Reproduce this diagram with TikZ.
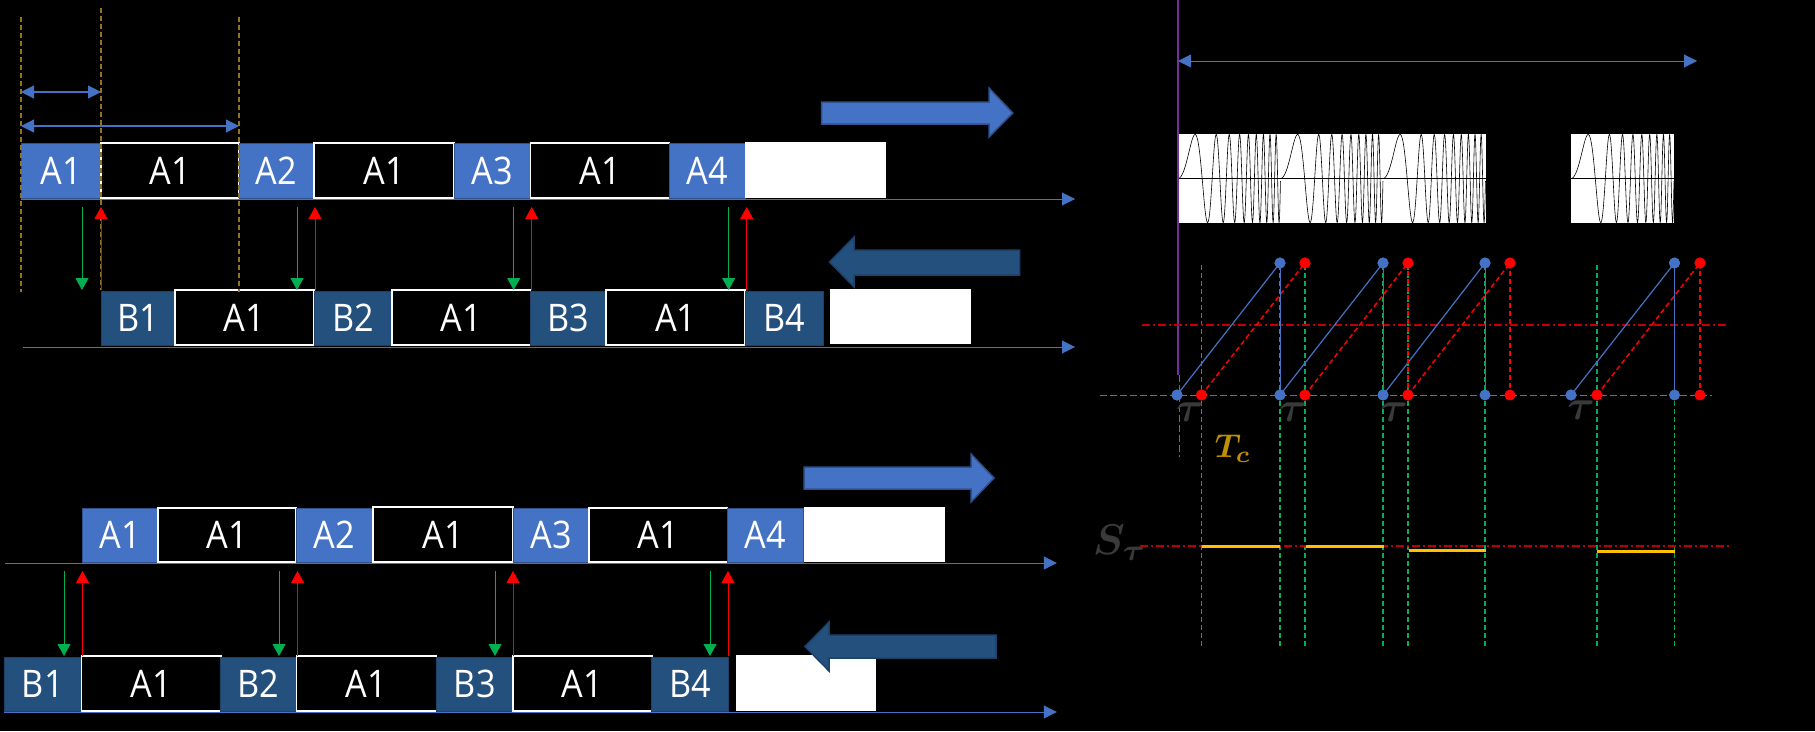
\documentclass[tikz,border=0pt]{standalone}
\usepackage{amsmath,bm}
\usepackage{fontspec}
\newfontfamily\boxfont[FakeStretch=0.9]{Open Sans}
\usetikzlibrary{arrows.meta}
\definecolor{ablue}{HTML}{4472C4}
\definecolor{ablueD}{HTML}{2F528F}
\definecolor{bblue}{RGB}{35,80,125}
\definecolor{bblueD}{RGB}{30,65,105}
\definecolor{pgreen}{HTML}{00B050}
\definecolor{pred}{HTML}{FF0000}
\definecolor{dred}{HTML}{C00000}
\definecolor{goldc}{HTML}{BF9000}
\definecolor{golddash}{RGB}{150,115,30}
\definecolor{lgray}{HTML}{3A3A3A}
\definecolor{purp}{HTML}{7030A0}
\definecolor{yel}{HTML}{FFC000}
\newcommand\bx[7]{\node[#6, minimum width={#3-#2}, minimum height={#5-#4}] (#1) at ({(#2+#3)/2},{(#4+#5)/2}) {#7};}
\tikzset{
  cell/.style={inner sep=0pt, outer sep=0pt, font={\boxfont\fontsize{38}{42}\selectfont}, text=white},
  ab/.style={cell, fill=ablue, draw=ablueD, line width=1pt},
  bb/.style={cell, fill=bblue, draw=bblueD, line width=1pt},
  ob/.style={cell, fill=black, draw=white, line width=1.8pt},
  wb/.style={cell, fill=white},
  axisline/.style={ablue, line width=1pt, -{Triangle[length=13pt,width=13pt]}},
  dn/.style={pgreen, line width=1pt, -{Triangle[length=12pt,width=13pt]}},
  upar/.style={pred, line width=1pt, -{Triangle[length=12pt,width=13pt]}},
  gdash/.style={golddash, line width=1.5pt, dash pattern=on 5pt off 3pt},
  dbl/.style={ablue, line width=1.2pt, {Triangle[length=13pt,width=13pt]}-{Triangle[length=13pt,width=13pt]}},
  blkA/.style={fill=ablue, draw=ablueD, line width=1.5pt},
  blkB/.style={fill=bblue, draw=bblueD, line width=1.5pt},
  gv/.style={pgreen, line width=1.5pt, dash pattern=on 5pt off 3pt},
  bdiag/.style={ablue, line width=1.2pt},
  rdiag/.style={pred, line width=1.5pt, dash pattern=on 5pt off 3pt},
  bhd/.style={ablue, line width=1pt, dash pattern=on 7pt off 3pt},
  rdd/.style={dred, line width=1.2pt, dash pattern=on 8pt off 3pt on 2pt off 3pt},
  bdot/.style={circle, fill=ablue, inner sep=0pt, minimum size=11pt},
  rdot/.style={circle, fill=pred, inner sep=0pt, minimum size=11pt},
  lab/.style={inner sep=0pt, text=lgray},
}
\begin{document}
\begin{tikzpicture}[x=1pt,y=-1pt]
\fill[black] (0,0) rectangle (1815,731);
\useasboundingbox (0,0) rectangle (1815,731);

% ---------- top-left panel ----------
\bx{t1a}{21}{101}{143}{198}{ab}{A1}
\bx{t1o}{101}{239}{143}{198}{ob}{A1}
\bx{t2a}{239}{314}{143}{198}{ab}{A2}
\bx{t2o}{314}{454}{143}{198}{ob}{A1}
\bx{t3a}{454}{530.5}{143}{198}{ab}{A3}
\bx{t3o}{530.5}{669.4}{143}{198}{ob}{A1}
\bx{t4a}{669.4}{745.2}{143}{198}{ab}{A4}
\bx{t4w}{745.2}{885.6}{142}{198}{wb}{}

\bx{b1b}{101}{175}{291}{345}{bb}{B1}
\bx{b1o}{175}{314}{290}{345}{ob}{A1}
\bx{b2b}{314}{392}{291}{345}{bb}{B2}
\bx{b2o}{392}{530.5}{290}{345}{ob}{A1}
\bx{b3b}{530.5}{606.3}{291}{345}{bb}{B3}
\bx{b3o}{606.3}{745.2}{290}{345}{ob}{A1}
\bx{b4b}{745.2}{823.2}{291}{345}{bb}{B4}
\bx{b4w}{830}{971}{289}{344}{wb}{}

\coordinate (ta0) at (21,199); \coordinate (ta1) at (1075,199);
\coordinate (ba0) at (23,347); \coordinate (ba1) at (1075,347);
\draw[axisline] (ta0) -- (ta1);
\draw[axisline] (ba0) -- (ba1);

\draw[gdash] (21,17) -- (21,292);
\draw[gdash] (101,8) -- (101,290);
\draw[gdash] (239,17) -- (239,292);
\coordinate (d0) at (21,92); \coordinate (d1) at (101,92);
\coordinate (e0) at (21,126); \coordinate (e1) at (239,126);
\draw[dbl] (d0) -- (d1);
\draw[dbl] (e0) -- (e1);

\foreach \g/\r in {82/101, 297/315, 513.7/531.7, 728.7/746.7}{
  \draw[dn] (\g,207) -- (\g,290);
  \draw[upar] (\r,290) -- (\r,207);
}

\draw[blkA] (821.7,102) -- (989,102) -- (989,88) -- (1012.7,113) -- (989,137) -- (989,124) -- (821.7,124) -- cycle;
\draw[blkB] (1019.5,250) -- (854.2,250) -- (854.2,237) -- (829.4,262) -- (854.2,287) -- (854.2,275) -- (1019.5,275) -- cycle;

% ---------- lower-left panel ----------
\bx{l1a}{82}{158}{508}{562}{ab}{A1}
\bx{l1o}{158}{296}{508}{562}{ob}{A1}
\bx{l2a}{296}{373}{508}{562}{ab}{A2}
\bx{l2o}{373}{513}{507}{562}{ob}{A1}
\bx{l3a}{513}{589}{508}{562}{ab}{A3}
\bx{l3o}{589}{727.5}{508}{562}{ob}{A1}
\bx{l4a}{727.5}{803.6}{508}{562}{ab}{A4}
\bx{l4w}{803.6}{944.6}{507}{562}{wb}{}

\bx{m1b}{4}{81.4}{657}{711}{bb}{B1}
\bx{m1o}{81.4}{220.7}{656}{711}{ob}{A1}
\bx{m2b}{220.7}{296.4}{657}{711}{bb}{B2}
\bx{m2o}{296.4}{436.4}{656}{711}{ob}{A1}
\bx{m3b}{436.4}{513}{657}{711}{bb}{B3}
\bx{m3o}{513}{651.8}{656}{711}{ob}{A1}
\bx{m4b}{651.8}{728.2}{657}{711}{bb}{B4}
\bx{m4w}{736.4}{875.7}{655}{711}{wb}{}

\coordinate (la0) at (5,563); \coordinate (la1) at (1056.8,563);
\coordinate (ma0) at (4,712); \coordinate (ma1) at (1056.8,712);
\draw[axisline] (la0) -- (la1);
\draw[axisline] (ma0) -- (ma1);

\foreach \g/\r in {64/82.5, 279/297.5, 495/513, 710/728}{
  \draw[dn] (\g,571) -- (\g,656);
  \draw[upar] (\r,656) -- (\r,571);
}

\draw[blkA] (804,467) -- (971,467) -- (971,454) -- (994,478) -- (971,502) -- (971,489) -- (804,489) -- cycle;
\draw[blkB] (996,635) -- (829,635) -- (829,622) -- (805,646.5) -- (829,671) -- (829,658) -- (996,658) -- cycle;

% ---------- right panel ----------
\fill[white] (1178,134) rectangle (1485.5,223);
\fill[white] (1571,134) rectangle (1674,223);
\draw[black, line width=0.6pt] (1178,178.5) -- (1485.5,178.5);
\draw[black, line width=0.6pt] (1571,178.5) -- (1674,178.5);
\foreach \xs/\w in {1178/102.5, 1280.5/102.5, 1383/102.5, 1571/103}{
  \draw[black, line width=0.6pt] plot[domain=0:1, samples=500] ({\xs+\w*\x},{178.5-44*sin(3240*\x*\x)});
}

\draw[purp, line width=1.5pt] (1178,0) -- (1178,375);
\draw[bhd] (1179,375) -- (1179,457);
\coordinate (p0) at (1178,61); \coordinate (p1) at (1697,61);
\draw[dbl, line width=1pt] (p0) -- (p1);

% green dashed verticals
\foreach \gx in {1201.5, 1280, 1305, 1383, 1408, 1485, 1597, 1674.5}{
  \draw[gv] (\gx,265) -- (\gx,646);
}
% horizontal reference lines
\draw[bhd] (1100,395) -- (1712,395);
\draw[rdd] (1142,325) -- (1729,325);
\draw[rdd] (1140,546) -- (1729,546);

% ramps
\foreach \b/\rr/\bt/\rt [count=\i] in {1177/1201.5/1280/1305, 1280/1305/1383/1408, 1383/1408/1485/1510, 1571/1597/1674.5/1700}{
  \node[bdot] (bb\i) at (\b,395) {};
  \node[rdot] (rb\i) at (\rr,395) {};
  \node[bdot] (bt\i) at (\bt,263) {};
  \node[rdot] (rt\i) at (\rt,263) {};
  \draw[bdiag] (bb\i.center) -- (bt\i.center);
  \draw[rdiag] (rb\i.center) -- (rt\i.center);
}
\foreach \bt in {1280, 1383, 1485, 1674.5}{
  \draw[ablue, line width=1pt] (\bt,263) -- (\bt,395);
}
\foreach \rt in {1408, 1510, 1700}{
  \draw[rdiag, line width=1.2pt] (\rt,263) -- (\rt,395);
}
% redraw dots on top
\foreach \b in {1177, 1280, 1383, 1485, 1571, 1674.5}{ \node[bdot] at (\b,395) {}; }
\foreach \r in {1201.5, 1305, 1408, 1510, 1597, 1700}{ \node[rdot] at (\r,395) {}; }
\foreach \b in {1280, 1383, 1485, 1674.5}{ \node[bdot] at (\b,263) {}; }
\foreach \r in {1305, 1408, 1510, 1700}{ \node[rdot] at (\r,263) {}; }

% S_tau segments
\draw[yel, line width=3pt] (1202,546) -- (1280,546);
\draw[yel, line width=3pt] (1306,546) -- (1384,546);
\draw[yel, line width=3pt] (1409,550) -- (1486,550);
\draw[yel, line width=3pt] (1597,551) -- (1675,551);

% labels
\node[lab, scale=4.2] (tau1) at (1190,412) {$\bm{\tau}$};
\node[lab, scale=4.2] (tau2) at (1293,412) {$\bm{\tau}$};
\node[lab, scale=4.2] (tau3) at (1394,412) {$\bm{\tau}$};
\node[lab, scale=4.2] (tau4) at (1581,410) {$\bm{\tau}$};
\node[lab, text=goldc, scale=3.3] (tc) at (1233,449) {$\bm{T_c}$};
\node[lab, scale=4.3] (stau) at (1120,543) {$\bm{S_\tau}$};
\end{tikzpicture}
\end{document}
